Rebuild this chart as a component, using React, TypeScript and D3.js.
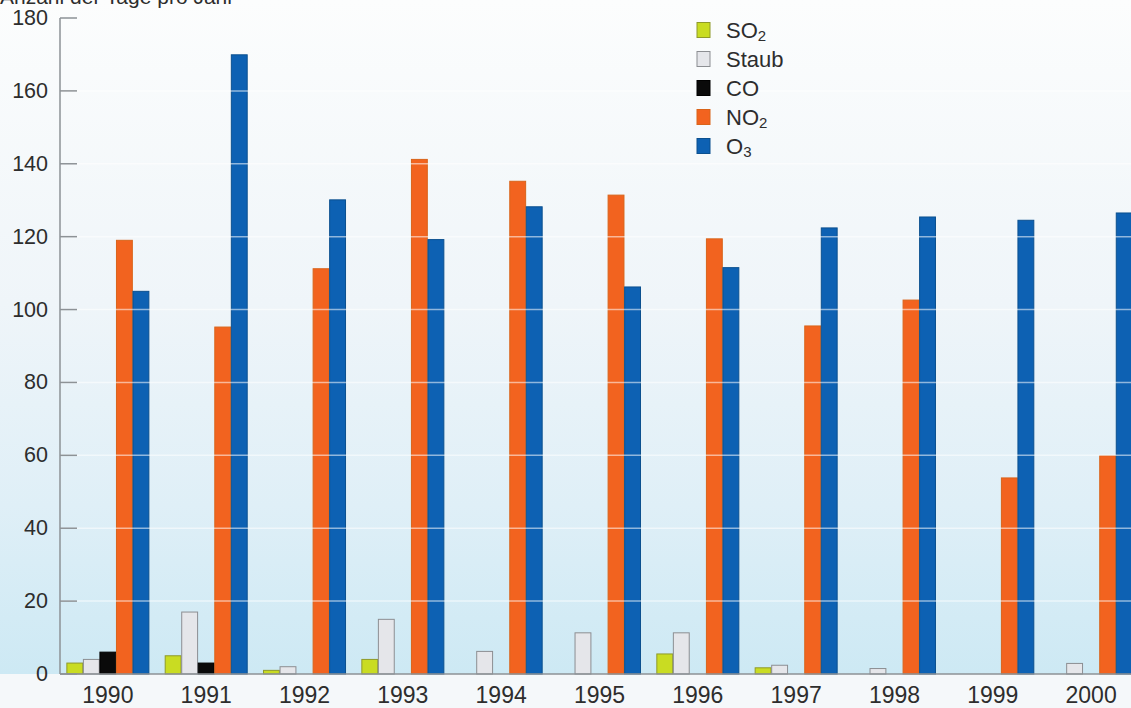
import React from "react";
import * as d3 from "d3";

const years = ["1990", "1991", "1992", "1993", "1994", "1995", "1996", "1997", "1998", "1999", "2000"];
const so2 = [3, 5, 1, 4, 0, 0, 5.5, 1.7, 0, 0, 0];
const staub = [4, 17, 2, 15, 6.2, 11.3, 11.3, 2.4, 1.5, 0, 2.9];
const co = [6, 3, 0, 0, 0, 0, 0, 0, 0, 0, 0];
const no2 = [119, 95.2, 111.2, 141.2, 135.2, 131.4, 119.4, 95.5, 102.6, 53.8, 59.9];
const o3 = [105, 169.9, 130.1, 119.2, 128.2, 106.2, 111.5, 122.4, 125.4, 124.5, 126.5];
const yTicks = [0, 20, 40, 60, 80, 100, 120, 140, 160, 180];
const seriesKeys = ["SO2", "Staub", "CO", "NO2", "O3"];
const seriesLabels: [string, string][] = [["SO", "2"], ["Staub", ""], ["CO", ""], ["NO", "2"], ["O", "3"]];
const seriesValues = [so2, staub, co, no2, o3];
const title = "Anzahl der Tage pro Jahr";

const fills = ["#c9dc22", "#e5e6ea", "#0a0a0a", "#f2631f", "#0d61b3"];
const strokes = ["#8f9a2a", "#8c8e92", "#000000", "#d9641a", "#0b508f"];

export default function App() {
  const W = 1131, H = 708;
  const axisX = 60, axisY = 674;
  const x = d3.scaleBand<string>().domain(years).range([59, 1140]).paddingInner(0.166).paddingOuter(0.08);
  const xs = d3.scaleBand<string>().domain(seriesKeys).range([0, x.bandwidth()]).paddingInner(0.04).paddingOuter(0);
  const y = d3.scaleLinear().domain([0, 180]).range([axisY, 18]);
  const font = "'Liberation Sans', Arial, Helvetica, sans-serif";

  return (
    <div style={{ position: "absolute", left: 0, top: 0 }}>
      <svg width={W} height={H} style={{ display: "block", fontFamily: font }}>
        <defs>
          <linearGradient id="bg" x1="0" y1="0" x2="0" y2="1">
            <stop offset="0" stopColor="#fcfdfd" />
            <stop offset="0.45" stopColor="#eff5f9" />
            <stop offset="0.75" stopColor="#dfeff7" />
            <stop offset="1" stopColor="#cde9f4" />
          </linearGradient>
        </defs>
        <rect x={0} y={0} width={W} height={H} fill="#f5f8fa" />
        <rect x={0} y={0} width={W} height={axisY} fill="url(#bg)" />

        {/* bars */}
        {seriesValues.map((vals, si) =>
          vals.map((v, i) =>
            v > 0 ? (
              <rect
                key={`${si}-${i}`}
                x={(x(years[i]) as number) + (xs(seriesKeys[si]) as number)}
                y={y(v)}
                width={xs.bandwidth()}
                height={axisY - y(v)}
                fill={fills[si]}
                stroke={strokes[si]}
                strokeWidth={1}
              />
            ) : null
          )
        )}

        {/* gridlines (white over bars) */}
        {yTicks.filter((t) => t > 0 && t < 180).map((t) => (
          <line key={t} x1={axisX} x2={W} y1={y(t)} y2={y(t)} stroke="#ffffff" strokeOpacity={0.55} strokeWidth={1.5} />
        ))}

        {/* axes */}
        <line x1={axisX} x2={axisX} y1={y(180)} y2={axisY} stroke="#8d9296" strokeWidth={1.5} />
        <line x1={axisX} x2={W} y1={axisY} y2={axisY} stroke="#8d9296" strokeWidth={1.5} />
        {yTicks.map((t) => (
          <g key={t}>
            <line x1={axisX} x2={axisX + 17} y1={y(t)} y2={y(t)} stroke="#8d9296" strokeWidth={1.5} />
            <text x={48} y={y(t)} textAnchor="end" dominantBaseline="central" fontSize={21.5} fill="#2d2d2d">
              {t}
            </text>
          </g>
        ))}
        {years.map((yr) => (
          <text key={yr} x={(x(yr) as number) + x.bandwidth() / 2} y={703} textAnchor="middle" fontSize={23} fill="#2d2d2d">
            {yr}
          </text>
        ))}

        {/* title (cut at top, as in the reference) */}
        <text x={0} y={4} fontSize={21} fill="#2d2d2d">{title}</text>

        {/* legend */}
        {seriesLabels.map(([main, sub], i) => {
          const cy = 30 + i * 29;
          return (
            <g key={i}>
              <rect x={697} y={cy - 7.5} width={13} height={15} fill={fills[i]} stroke={strokes[i]} strokeWidth={1} />
              <text x={726} y={cy} dominantBaseline="central" fontSize={22} fill="#2d2d2d">
                {main}
                {sub ? <tspan fontSize={15} dy={5}>{sub}</tspan> : null}
              </text>
            </g>
          );
        })}
      </svg>
    </div>
  );
}
